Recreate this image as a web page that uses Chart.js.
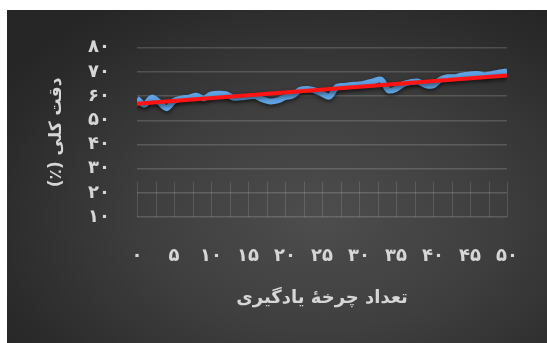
<!DOCTYPE html>
<html>
<head>
<meta charset="utf-8">
<script src="https://cdn.jsdelivr.net/npm/chart.js@4/dist/chart.umd.min.js"></script>
<style>
  html, body { margin: 0; padding: 0; background: #ffffff; width: 547px; height: 343px; overflow: hidden; }
  #panel {
    position: absolute; left: 7px; top: 10px; width: 540px; height: 333px;
    background: radial-gradient(ellipse 70% 75% at 58% 62%, #4d4d4d 0%, #3f3f3f 45%, #2c2c2c 85%, #262626 100%);
  }
  #c { position: absolute; left: 0; top: 0; }
</style>
</head>
<body>
<div id="panel"><canvas id="c" width="540" height="333"></canvas></div>
<script>
// Learning cycle (x) and overall accuracy (%)
const cycles = [0,1,2,3,4,5,6,7,8,9,10,11,12,13,14,15,16,17,18,19,20,21,22,23,24,25,26,27,28,29,30,31,32,33,34,35,36,37,38,39,40,41,42,43,44,45,46,47,48,49,50];
const accuracy = [59,56.5,59.4,57.5,55,58,59,59.4,60.2,59,60.6,61,60.8,59.4,59.5,59.8,60,58.6,57.8,58.2,59.6,60.2,62.5,63,62.4,61,59.8,63.8,64.2,64.6,64.8,65.4,66.2,66.8,62.4,63,65,65.8,66,64.6,64.4,66.8,67.8,67.8,68.6,69,69.2,68.6,69.2,69.8,70.2];
const trendX = [0, 50];
const trendY = [56.9, 68.5];
const xTickValues = [0,5,10,15,20,25,30,35,40,45,50];
const xTickLabels = ['۰','۵','۱۰','۱۵','۲۰','۲۵','۳۰','۳۵','۴۰','۴۵','۵۰'];
const yTickValues = [10,20,30,40,50,60,70,80];
const yTickLabels = ['۱۰','۲۰','۳۰','۴۰','۵۰','۶۰','۷۰','۸۰'];
const xTitle = 'تعداد چرخهٔ یادگیری';
const yTitle = 'دقت کلی (٪)';

const FONT = 'DejaVu Sans';
const TXT = '#d6d6d6';
const RTL = (s) => '\u202B' + s + '\u202C';

const lowerGrid = {
  id: 'lowerGrid',
  beforeDatasetsDraw(chart) {
    const {ctx, scales: {x, y}} = chart;
    ctx.save();
    ctx.strokeStyle = 'rgba(255,255,255,0.13)';
    ctx.lineWidth = 1;
    const yTop = y.getPixelForValue(24.5), yBot = y.getPixelForValue(10);
    for (let v = 0; v <= 50; v += 2.5) {
      const px = Math.round(x.getPixelForValue(v)) + 0.5;
      ctx.beginPath(); ctx.moveTo(px, yTop); ctx.lineTo(px, yBot); ctx.stroke();
    }
    ctx.restore();
  }
};

const shadow = {
  id: 'shadow',
  beforeDatasetDraw(chart, args) {
    const ctx = chart.ctx;
    ctx.save();
    ctx.shadowColor = 'rgba(0,0,0,0.55)';
    ctx.shadowBlur = 4;
    ctx.shadowOffsetY = 2;
  },
  afterDatasetDraw(chart) { chart.ctx.restore(); }
};

new Chart(document.getElementById('c'), {
  type: 'line',
  data: {
    datasets: [
      {
        data: trendX.map((v, i) => ({x: v, y: trendY[i]})),
        borderColor: '#ff1414',
        borderWidth: 4,
        pointRadius: 0,
        tension: 0,
        order: 0
      },
      {
        data: cycles.map((v, i) => ({x: v, y: accuracy[i]})),
        borderColor: '#5ea3e4',
        borderWidth: 6,
        pointRadius: 0,
        tension: 0.3,
        borderJoinStyle: 'round',
        order: 1
      }
    ]
  },
  options: {
    responsive: false,
    animation: false,
    events: [],
    layout: { padding: { top: 32, right: 35, bottom: 0, left: 0 } },
    plugins: { legend: { display: false }, tooltip: { enabled: false } },
    scales: {
      x: {
        type: 'linear', min: 0, max: 50,
        afterBuildTicks(s) { s.ticks = xTickValues.map(v => ({value: v})); },
        afterFit(s) { s.height = 126; },
        grid: { display: false, drawTicks: false },
        border: { display: false },
        ticks: {
          padding: 29, color: TXT, font: { family: FONT, size: 18, weight: 'bold' },
          maxRotation: 0, autoSkip: false,
          callback: (v) => { const i = xTickValues.indexOf(v); return i >= 0 ? xTickLabels[i] : ''; }
        },
        title: { display: true, text: RTL(xTitle), color: TXT, font: { family: FONT, size: 18, weight: 'bold' }, padding: { top: 0, bottom: 34 } }
      },
      y: {
        type: 'linear', min: 10, max: 80,
        afterBuildTicks(s) { s.ticks = yTickValues.map(v => ({value: v})); },
        afterFit(s) { s.width = 130; },
        grid: { color: 'rgba(255,255,255,0.16)', lineWidth: 1.5, drawTicks: false },
        border: { display: false },
        ticks: {
          padding: 27, color: TXT, font: { family: FONT, size: 18, weight: 'bold' }, autoSkip: false,
          callback: (v) => { const i = yTickValues.indexOf(v); return i >= 0 ? yTickLabels[i] : ''; }
        },
        title: { display: true, text: RTL(yTitle), color: TXT, font: { family: FONT, size: 17, weight: 'bold' }, padding: { top: 39, bottom: 0 } }
      }
    }
  },
  plugins: [lowerGrid, shadow]
});
</script>
</body>
</html>
